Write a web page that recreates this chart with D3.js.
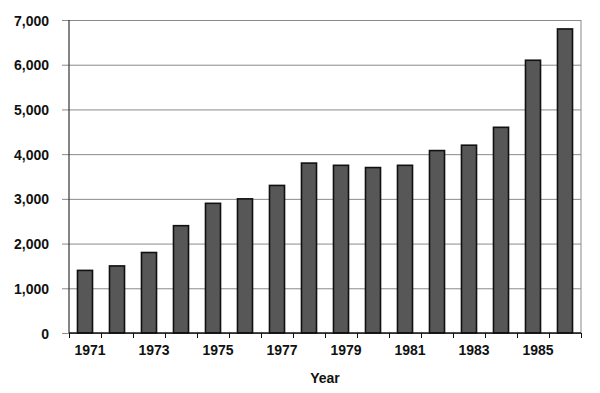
<!DOCTYPE html>
<html>
<head>
<meta charset="utf-8">
<script src="https://cdn.jsdelivr.net/npm/d3@7"></script>
<style>
  body { margin: 0; background: #fff; }
  text { font-family: 'Liberation Sans', Arial, sans-serif; font-weight: bold; fill: #111; }
</style>
</head>
<body>
<div id="chart"></div>
<script>
const years = ['1971', '1972', '1973', '1974', '1975', '1976', '1977', '1978',
    '1979', '1980', '1981', '1982', '1983', '1984', '1985', '1986'];
const values = [1400, 1500, 1800, 2400, 2900, 3000, 3300, 3800,
    3750, 3700, 3750, 4080, 4200, 4600, 6100, 6800];
const yTicks = [0, 1000, 2000, 3000, 4000, 5000, 6000, 7000];
const xLabels = ['1971', '1973', '1975', '1977', '1979', '1981', '1983', '1985'];

const W = 600, H = 393;
const margin = { top: 20, right: 19, bottom: 60, left: 69 };
const width = W - margin.left - margin.right;
const height = H - margin.top - margin.bottom;

const svg = d3.select('#chart')
    .append('svg')
    .attr('width', W)
    .attr('height', H)
    .append('g')
    .attr('transform', `translate(${margin.left},${margin.top})`);

const x = d3.scaleBand()
    .domain(years)
    .range([0, width])
    .paddingInner(0.53)
    .paddingOuter(0.265);

// tick marks sit on the band boundaries
const xEdges = d3.scaleLinear()
    .domain([0, years.length])
    .range([0, width]);

const y = d3.scaleLinear()
    .domain([0, 7000])
    .range([height, 0]);

// gridlines + y labels
const yAxis = svg.append('g')
    .call(d3.axisLeft(y)
        .tickValues(yTicks)
        .tickSize(-width - 7)
        .tickPadding(20)
        .tickFormat(d3.format(',')));
yAxis.select('.domain').remove();
yAxis.selectAll('.tick line')
    .attr('x1', -7)
    .attr('x2', width)
    .attr('stroke', '#8a8a8a');
yAxis.selectAll('.tick text')
    .style('font-size', '14px')
    .attr('dy', '0.36em');

// right border
svg.append('line')
    .attr('x1', width).attr('x2', width)
    .attr('y1', 0).attr('y2', height)
    .attr('stroke', '#8a8a8a');

// left axis line
svg.append('line')
    .attr('x1', 0).attr('x2', 0)
    .attr('y1', 0).attr('y2', height)
    .attr('stroke', '#333')
    .attr('stroke-width', 1.2);

// bars
svg.selectAll('.bar')
    .data(values)
    .join('rect')
    .attr('class', 'bar')
    .attr('x', (d, i) => x(years[i]))
    .attr('y', (d) => y(d))
    .attr('width', x.bandwidth())
    .attr('height', (d) => height - y(d))
    .attr('fill', '#575757')
    .attr('stroke', '#111')
    .attr('stroke-width', 1.6);

// bottom axis with ticks at band edges
const xAxis = svg.append('g')
    .attr('transform', `translate(0,${height})`)
    .call(d3.axisBottom(xEdges)
        .tickValues(d3.range(years.length + 1))
        .tickSize(5)
        .tickFormat(''));
xAxis.select('.domain')
    .attr('stroke', '#111')
    .attr('stroke-width', 1.4)
    .attr('d', `M0,0H${width}`);
xAxis.selectAll('.tick line').attr('stroke', '#111');

svg.append('g')
    .selectAll('text')
    .data(xLabels)
    .join('text')
    .attr('x', (d) => x(d) + x.bandwidth() / 2 + 5)
    .attr('y', height + 22)
    .attr('text-anchor', 'middle')
    .style('font-size', '14px')
    .text((d) => d);

svg.append('text')
    .attr('x', width / 2)
    .attr('y', height + 50)
    .attr('text-anchor', 'middle')
    .style('font-size', '14px')
    .text('Year');
</script>
</body>
</html>
